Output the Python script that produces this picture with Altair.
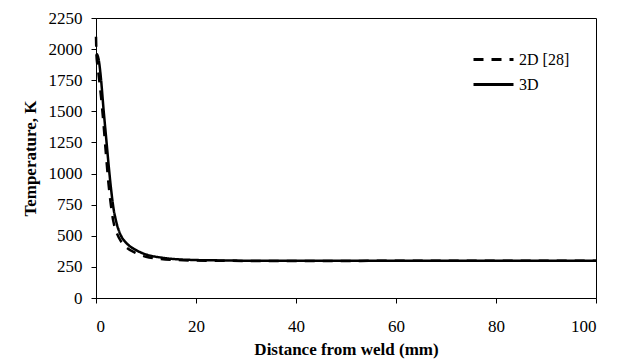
import altair as alt
import pandas as pd

x_3d = [0, 0.3, 0.6, 1.0, 1.5, 2.0, 2.5, 3.0, 3.5, 4.0, 5.0, 6.0, 8.0, 10, 13, 16, 20, 25, 30, 40, 50, 60, 80, 100]
t_3d = [1965, 1950, 1900, 1760, 1520, 1300, 1080, 880, 720, 620, 500, 445, 385, 350, 325, 312, 305, 302, 300, 300, 300, 300, 300, 300]

x_2d = [0, 0.1, 0.25, 0.5, 1.0, 1.5, 2.0, 2.5, 3.0, 3.5, 4.0, 5.0, 6.0, 8.0, 10, 13, 16, 20, 25, 30, 40, 50, 60, 80, 100]
t_2d = [2100, 1950, 1880, 1800, 1620, 1400, 1150, 920, 740, 610, 540, 455, 410, 360, 332, 314, 306, 301, 299, 298, 298, 298, 299, 299, 299]

series = ["2D [28]", "3D"]

rows = []
for x, t in zip(x_2d, t_2d):
    rows.append({"x": x, "t": t, "s": series[0]})
for x, t in zip(x_3d, t_3d):
    rows.append({"x": x, "t": t, "s": series[1]})
df = pd.DataFrame(rows)

font = "'Liberation Serif', 'Times New Roman', serif"

chart = alt.Chart(df).mark_line(strokeWidth=2.5, interpolate="monotone").encode(
    x=alt.X("x:Q", scale=alt.Scale(domain=[0, 100], nice=False),
            axis=alt.Axis(values=[0, 20, 40, 60, 80, 100], title="Distance from weld (mm)",
                          format="d", tickSize=5, labelPadding=15, titlePadding=7)),
    y=alt.Y("t:Q", scale=alt.Scale(domain=[0, 2250], nice=False),
            axis=alt.Axis(values=list(range(0, 2251, 250)), title="Temperature, K",
                          format="d", tickSize=5, labelPadding=9, titlePadding=9)),
    color=alt.Color("s:N", scale=alt.Scale(domain=series, range=["black", "black"]),
                    legend=alt.Legend(title=None, orient="none", legendX=376, legendY=29,
                                      symbolType="stroke", symbolSize=1600, symbolStrokeWidth=3,
                                      labelFontSize=16, labelFont=font, labelColor="black",
                                      rowPadding=0, clipHeight=25, labelOffset=4)),
    strokeDash=alt.StrokeDash("s:N", scale=alt.Scale(domain=series, range=[[10, 8], [1, 0]]),
                              legend=None),
).properties(
    width=500, height=280,
    padding={"left": 88, "top": 10, "right": 14, "bottom": 72},
    autosize=alt.AutoSizeParams(type="none"),
).configure_view(
    stroke="black", strokeWidth=1
).configure_axis(
    grid=False, domainColor="black", tickColor="black", labelColor="black", titleColor="black",
    labelFont=font, titleFont=font, labelFontSize=17, titleFontSize=17, titleFontWeight="bold",
    domainWidth=1
)

chart.save("out.html", embed_options={"renderer": "svg", "actions": False})
